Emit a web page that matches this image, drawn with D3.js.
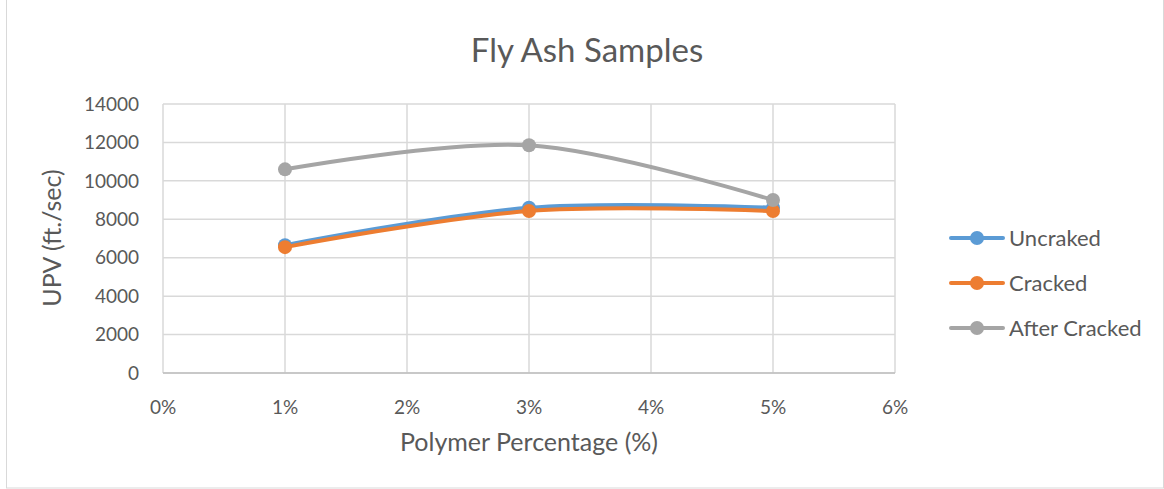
<!DOCTYPE html>
<html><head><meta charset="utf-8">
<script src="https://cdn.jsdelivr.net/npm/d3@7"></script>
<style>body{margin:0;background:#fff}svg{display:block}text{font-family:Lato,"Open Sans",sans-serif;fill:#595959}</style>
</head><body><svg id="c" width="1164" height="489"></svg>
<script>
const xValues = [0.01, 0.03, 0.05];
const uncraked = [6650, 8600, 8600];
const cracked = [6550, 8430, 8430];
const afterCracked = [10600, 11850, 9000];
const seriesNames = ["Uncraked", "Cracked", "After Cracked"];
const seriesColors = ["#5B9BD5", "#ED7D31", "#A5A5A5"];
const xTicks = [0, 0.01, 0.02, 0.03, 0.04, 0.05, 0.06];
const yTicks = [0, 2000, 4000, 6000, 8000, 10000, 12000, 14000];

const series = [uncraked, cracked, afterCracked];
const svg = d3.select("#c");
svg.append("rect").attr("x",6.5).attr("y",-1).attr("width",1157).attr("height",489)
  .attr("fill","none").attr("stroke","#d9d9d9");

const x = d3.scaleLinear().domain([0,0.06]).range([163,895]);
const y = d3.scaleLinear().domain([0,14000]).range([373,104]);

const g = svg.append("g");
g.selectAll(".hg").data(yTicks).join("line")
  .attr("x1",x(0)).attr("x2",x(0.06)).attr("y1",d=>y(d)).attr("y2",d=>y(d))
  .attr("stroke","#d9d9d9").attr("stroke-width",1.5);
g.selectAll(".vg").data(xTicks).join("line")
  .attr("y1",y(0)).attr("y2",y(14000)).attr("x1",d=>x(d)).attr("x2",d=>x(d))
  .attr("stroke","#d9d9d9").attr("stroke-width",1.5);
g.append("line").attr("x1",x(0)).attr("x2",x(0.06)).attr("y1",y(0)).attr("y2",y(0))
  .attr("stroke","#bfbfbf").attr("stroke-width",1.5);

g.selectAll(".yt").data(yTicks).join("text")
  .attr("x",139).attr("y",d=>y(d)).attr("dy","0.35em").attr("text-anchor","end")
  .attr("font-size",19).text(d=>d);
g.selectAll(".xt").data(xTicks).join("text")
  .attr("x",d=>x(d)).attr("y",407).attr("dy","0.35em").attr("text-anchor","middle")
  .attr("font-size",19).text(d=>d3.format(".0%")(d));

svg.append("text").attr("x",587).attr("y",50).attr("dy","0.35em").attr("text-anchor","middle")
  .attr("font-size",33).text("Fly Ash Samples");
svg.append("text").attr("x",529).attr("y",442).attr("dy","0.35em").attr("text-anchor","middle")
  .attr("font-size",25).text("Polymer Percentage (%)");
svg.append("text").attr("transform","translate(52,238) rotate(-90)").attr("dy","0.35em")
  .attr("text-anchor","middle").attr("font-size",25).text("UPV (ft./sec)");

const line = d3.line().x(d=>x(d[0])).y(d=>y(d[1])).curve(d3.curveCatmullRom.alpha(0));
series.forEach((s,i)=>{
  const pts = xValues.map((xv,j)=>[xv,s[j]]);
  svg.append("path").attr("d",line(pts)).attr("fill","none")
    .attr("stroke",seriesColors[i]).attr("stroke-width",4).attr("stroke-linecap","round");
  svg.selectAll(null).data(pts).join("circle")
    .attr("cx",d=>x(d[0])).attr("cy",d=>y(d[1])).attr("r",7).attr("fill",seriesColors[i]);
});

const leg = svg.append("g");
seriesNames.forEach((n,i)=>{
  const ly = 238 + i*45;
  leg.append("line").attr("x1",951).attr("x2",1003).attr("y1",ly).attr("y2",ly)
    .attr("stroke",seriesColors[i]).attr("stroke-width",4).attr("stroke-linecap","round");
  leg.append("circle").attr("cx",977).attr("cy",ly).attr("r",7).attr("fill",seriesColors[i]);
  leg.append("text").attr("x",1009).attr("y",ly).attr("dy","0.35em").attr("font-size",22).text(n);
});
</script></body></html>
